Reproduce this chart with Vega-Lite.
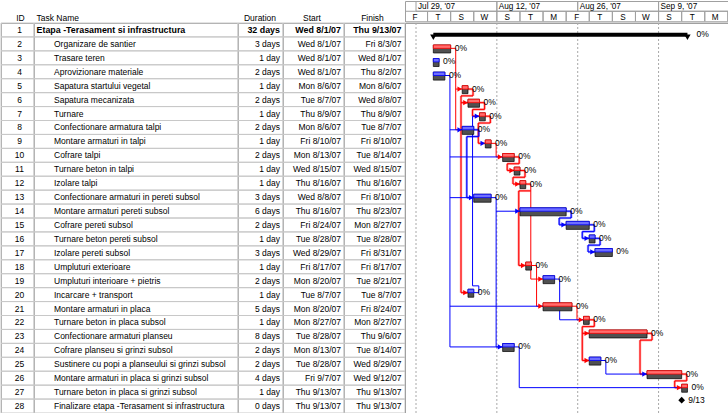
{
"$schema": "https://vega.github.io/schema/vega-lite/v6.json",
"padding": 0,
"spacing": 0,
"background": "white",
"config": {
  "view": {"stroke": "#a0a0a0", "strokeWidth": 1},
  "concat": {"spacing": 0},
  "text": {"font": "Liberation Sans", "fontSize": 8.5, "color": "#000000"}
},
"datasets": {
  "tasks": [
    {"id":1,"level":1,"name":"Etapa -Terasament si infrastructura","dur":"32 days","startTxt":"Wed 8/1/07","finishTxt":"Thu 9/13/07","start":"2007-08-01","end":"2007-09-14","crit":"yes","type":"summary","complete":0},
    {"id":2,"level":2,"name":"Organizare de santier","dur":"3 days","startTxt":"Wed 8/1/07","finishTxt":"Fri 8/3/07","start":"2007-08-01","end":"2007-08-04","crit":"yes","type":"task","complete":0},
    {"id":3,"level":2,"name":"Trasare teren","dur":"1 day","startTxt":"Wed 8/1/07","finishTxt":"Wed 8/1/07","start":"2007-08-01","end":"2007-08-02","crit":"no","type":"task","complete":0},
    {"id":4,"level":2,"name":"Aprovizionare materiale","dur":"2 days","startTxt":"Wed 8/1/07","finishTxt":"Thu 8/2/07","start":"2007-08-01","end":"2007-08-03","crit":"no","type":"task","complete":0},
    {"id":5,"level":2,"name":"Sapatura startului vegetal","dur":"1 day","startTxt":"Mon 8/6/07","finishTxt":"Mon 8/6/07","start":"2007-08-06","end":"2007-08-07","crit":"yes","type":"task","complete":0},
    {"id":6,"level":2,"name":"Sapatura mecanizata","dur":"2 days","startTxt":"Tue 8/7/07","finishTxt":"Wed 8/8/07","start":"2007-08-07","end":"2007-08-09","crit":"yes","type":"task","complete":0},
    {"id":7,"level":2,"name":"Turnare","dur":"1 day","startTxt":"Thu 8/9/07","finishTxt":"Thu 8/9/07","start":"2007-08-09","end":"2007-08-10","crit":"yes","type":"task","complete":0},
    {"id":8,"level":2,"name":"Confectionare armatura talpi","dur":"2 days","startTxt":"Mon 8/6/07","finishTxt":"Tue 8/7/07","start":"2007-08-06","end":"2007-08-08","crit":"no","type":"task","complete":0},
    {"id":9,"level":2,"name":"Montare armaturi in talpi","dur":"1 day","startTxt":"Fri 8/10/07","finishTxt":"Fri 8/10/07","start":"2007-08-10","end":"2007-08-11","crit":"yes","type":"task","complete":0},
    {"id":10,"level":2,"name":"Cofrare talpi","dur":"2 days","startTxt":"Mon 8/13/07","finishTxt":"Tue 8/14/07","start":"2007-08-13","end":"2007-08-15","crit":"yes","type":"task","complete":0},
    {"id":11,"level":2,"name":"Turnare beton in talpi","dur":"1 day","startTxt":"Wed 8/15/07","finishTxt":"Wed 8/15/07","start":"2007-08-15","end":"2007-08-16","crit":"yes","type":"task","complete":0},
    {"id":12,"level":2,"name":"Izolare talpi","dur":"1 day","startTxt":"Thu 8/16/07","finishTxt":"Thu 8/16/07","start":"2007-08-16","end":"2007-08-17","crit":"yes","type":"task","complete":0},
    {"id":13,"level":2,"name":"Confectionare armaturi in pereti subsol","dur":"3 days","startTxt":"Wed 8/8/07","finishTxt":"Fri 8/10/07","start":"2007-08-08","end":"2007-08-11","crit":"no","type":"task","complete":0},
    {"id":14,"level":2,"name":"Montare armaturi pereti subsol","dur":"6 days","startTxt":"Thu 8/16/07","finishTxt":"Thu 8/23/07","start":"2007-08-16","end":"2007-08-24","crit":"no","type":"task","complete":0},
    {"id":15,"level":2,"name":"Cofrare pereti subsol","dur":"2 days","startTxt":"Fri 8/24/07","finishTxt":"Mon 8/27/07","start":"2007-08-24","end":"2007-08-28","crit":"no","type":"task","complete":0},
    {"id":16,"level":2,"name":"Turnare beton pereti subsol","dur":"1 day","startTxt":"Tue 8/28/07","finishTxt":"Tue 8/28/07","start":"2007-08-28","end":"2007-08-29","crit":"no","type":"task","complete":0},
    {"id":17,"level":2,"name":"Izolare pereti subsol","dur":"3 days","startTxt":"Wed 8/29/07","finishTxt":"Fri 8/31/07","start":"2007-08-29","end":"2007-09-01","crit":"no","type":"task","complete":0},
    {"id":18,"level":2,"name":"Umpluturi exterioare","dur":"1 day","startTxt":"Fri 8/17/07","finishTxt":"Fri 8/17/07","start":"2007-08-17","end":"2007-08-18","crit":"yes","type":"task","complete":0},
    {"id":19,"level":2,"name":"Umpluturi interioare + pietris","dur":"2 days","startTxt":"Mon 8/20/07","finishTxt":"Tue 8/21/07","start":"2007-08-20","end":"2007-08-22","crit":"no","type":"task","complete":0},
    {"id":20,"level":2,"name":"Incarcare + transport","dur":"1 day","startTxt":"Tue 8/7/07","finishTxt":"Tue 8/7/07","start":"2007-08-07","end":"2007-08-08","crit":"no","type":"task","complete":0},
    {"id":21,"level":2,"name":"Montare armaturi in placa","dur":"5 days","startTxt":"Mon 8/20/07","finishTxt":"Fri 8/24/07","start":"2007-08-20","end":"2007-08-25","crit":"yes","type":"task","complete":0},
    {"id":22,"level":2,"name":"Turnare beton in placa subsol","dur":"1 day","startTxt":"Mon 8/27/07","finishTxt":"Mon 8/27/07","start":"2007-08-27","end":"2007-08-28","crit":"yes","type":"task","complete":0},
    {"id":23,"level":2,"name":"Confectionare armaturi planseu","dur":"8 days","startTxt":"Tue 8/28/07","finishTxt":"Thu 9/6/07","start":"2007-08-28","end":"2007-09-07","crit":"yes","type":"task","complete":0},
    {"id":24,"level":2,"name":"Cofrare planseu si grinzi subsol","dur":"2 days","startTxt":"Mon 8/13/07","finishTxt":"Tue 8/14/07","start":"2007-08-13","end":"2007-08-15","crit":"no","type":"task","complete":0},
    {"id":25,"level":2,"name":"Sustinere cu popi a planseului si grinzi subsol","dur":"2 days","startTxt":"Tue 8/28/07","finishTxt":"Wed 8/29/07","start":"2007-08-28","end":"2007-08-30","crit":"no","type":"task","complete":0},
    {"id":26,"level":2,"name":"Montare armaturi in placa si grinzi subsol","dur":"4 days","startTxt":"Fri 9/7/07","finishTxt":"Wed 9/12/07","start":"2007-09-07","end":"2007-09-13","crit":"yes","type":"task","complete":0},
    {"id":27,"level":2,"name":"Turnare beton in placa si grinzi subsol","dur":"1 day","startTxt":"Thu 9/13/07","finishTxt":"Thu 9/13/07","start":"2007-09-13","end":"2007-09-14","crit":"yes","type":"task","complete":0},
    {"id":28,"level":2,"name":"Finalizare etapa -Terasament si infrastructura","dur":"0 days","startTxt":"Thu 9/13/07","finishTxt":"Thu 9/13/07","start":"2007-09-13","end":"2007-09-13","crit":"yes","type":"milestone","complete":0}
  ],
  "timescale": [
    {"tier":"major","d":"2007-07-29","e":"2007-08-12","label":"Jul 29, '07"},
    {"tier":"major","d":"2007-08-12","e":"2007-08-26","label":"Aug 12, '07"},
    {"tier":"major","d":"2007-08-26","e":"2007-09-09","label":"Aug 26, '07"},
    {"tier":"major","d":"2007-09-09","e":"2007-09-23","label":"Sep 9, '07"},
    {"tier":"minor","d":"2007-07-27","e":"2007-07-31","label":"F"},
    {"tier":"minor","d":"2007-07-31","e":"2007-08-04","label":"T"},
    {"tier":"minor","d":"2007-08-04","e":"2007-08-08","label":"S"},
    {"tier":"minor","d":"2007-08-08","e":"2007-08-12","label":"W"},
    {"tier":"minor","d":"2007-08-12","e":"2007-08-16","label":"S"},
    {"tier":"minor","d":"2007-08-16","e":"2007-08-20","label":"T"},
    {"tier":"minor","d":"2007-08-20","e":"2007-08-24","label":"M"},
    {"tier":"minor","d":"2007-08-24","e":"2007-08-28","label":"F"},
    {"tier":"minor","d":"2007-08-28","e":"2007-09-01","label":"T"},
    {"tier":"minor","d":"2007-09-01","e":"2007-09-05","label":"S"},
    {"tier":"minor","d":"2007-09-05","e":"2007-09-09","label":"W"},
    {"tier":"minor","d":"2007-09-09","e":"2007-09-13","label":"S"},
    {"tier":"minor","d":"2007-09-13","e":"2007-09-17","label":"T"},
    {"tier":"minor","d":"2007-09-17","e":"2007-09-21","label":"M"},
    {"tier":"minor","d":"2007-09-21","e":"2007-09-25","label":""}
  ],
  "arrows": [
    {"d":"2007-08-06","row":5,"c":"yes"},{"d":"2007-08-06","row":8,"c":"no"},{"d":"2007-08-07","row":6,"c":"yes"},
    {"d":"2007-08-07","row":20,"c":"yes"},{"d":"2007-08-09","row":7,"c":"no"},{"d":"2007-08-10","row":9,"c":"no"},
    {"d":"2007-08-13","row":10,"c":"yes"},{"d":"2007-08-15","row":11,"c":"yes"},{"d":"2007-08-16","row":12,"c":"yes"},
    {"d":"2007-08-08","row":13,"c":"no"},{"d":"2007-08-16","row":14,"c":"no"},{"d":"2007-08-24","row":15,"c":"no"},
    {"d":"2007-08-28","row":16,"c":"no"},{"d":"2007-08-29","row":17,"c":"no"},{"d":"2007-08-17","row":18,"c":"yes"},
    {"d":"2007-08-20","row":19,"c":"yes"},{"d":"2007-08-20","row":21,"c":"yes"},{"d":"2007-08-27","row":22,"c":"yes"},
    {"d":"2007-08-28","row":23,"c":"yes"},{"d":"2007-08-13","row":24,"c":"no"},{"d":"2007-08-28","row":25,"c":"yes"},
    {"d":"2007-09-07","row":26,"c":"no"},{"d":"2007-09-13","row":27,"c":"yes"}
  ],
  "links": [
    {"x":"2007-08-04T00:00:00Z","x2":"2007-08-04T21:00:00Z","y":2,"y2":2,"c":"yes","b":0},
    {"x":"2007-08-04T21:00:00Z","x2":"2007-08-04T21:00:00Z","y":2,"y2":8,"c":"yes","b":0},
    {"x":"2007-08-04T21:00:00Z","x2":"2007-08-06T00:00:00Z","y":5,"y2":5,"c":"yes","b":0},
    {"x":"2007-08-04T21:00:00Z","x2":"2007-08-06T00:00:00Z","y":8,"y2":8,"c":"yes","b":0},
    {"x":"2007-08-07T00:00:00Z","x2":"2007-08-07T21:00:00Z","y":5,"y2":5,"c":"yes","b":1},
    {"x":"2007-08-07T21:00:00Z","x2":"2007-08-07T21:00:00Z","y":5,"y2":5.5,"c":"yes","b":1},
    {"x":"2007-08-05T19:00:00Z","x2":"2007-08-07T21:00:00Z","y":5.5,"y2":5.5,"c":"yes","b":1},
    {"x":"2007-08-05T19:00:00Z","x2":"2007-08-05T19:00:00Z","y":5.5,"y2":20,"c":"yes","b":1},
    {"x":"2007-08-05T19:00:00Z","x2":"2007-08-07T00:00:00Z","y":6,"y2":6,"c":"yes","b":1},
    {"x":"2007-08-05T19:00:00Z","x2":"2007-08-07T00:00:00Z","y":20,"y2":20,"c":"yes","b":1},
    {"x":"2007-08-09T00:00:00Z","x2":"2007-08-09T21:00:00Z","y":6,"y2":6,"c":"yes","b":1},
    {"x":"2007-08-09T21:00:00Z","x2":"2007-08-09T21:00:00Z","y":6,"y2":6.5,"c":"yes","b":1},
    {"x":"2007-08-07T19:00:00Z","x2":"2007-08-09T21:00:00Z","y":6.5,"y2":6.5,"c":"yes","b":1},
    {"x":"2007-08-07T19:00:00Z","x2":"2007-08-07T19:00:00Z","y":6.5,"y2":7,"c":"yes","b":1},
    {"x":"2007-08-07T19:00:00Z","x2":"2007-08-09T00:00:00Z","y":7,"y2":7,"c":"yes","b":1},
    {"x":"2007-08-10T00:00:00Z","x2":"2007-08-10T21:00:00Z","y":7,"y2":7,"c":"yes","b":1},
    {"x":"2007-08-10T21:00:00Z","x2":"2007-08-10T21:00:00Z","y":7,"y2":7.5,"c":"yes","b":1},
    {"x":"2007-08-08T19:00:00Z","x2":"2007-08-10T21:00:00Z","y":7.5,"y2":7.5,"c":"yes","b":1},
    {"x":"2007-08-08T19:00:00Z","x2":"2007-08-08T19:00:00Z","y":7.5,"y2":9,"c":"yes","b":1},
    {"x":"2007-08-08T19:00:00Z","x2":"2007-08-10T00:00:00Z","y":9,"y2":9,"c":"yes","b":1},
    {"x":"2007-08-11T00:00:00Z","x2":"2007-08-11T21:00:00Z","y":9,"y2":9,"c":"yes","b":0},
    {"x":"2007-08-11T21:00:00Z","x2":"2007-08-11T21:00:00Z","y":9,"y2":10,"c":"yes","b":0},
    {"x":"2007-08-11T21:00:00Z","x2":"2007-08-13T00:00:00Z","y":10,"y2":10,"c":"yes","b":0},
    {"x":"2007-08-15T00:00:00Z","x2":"2007-08-15T21:00:00Z","y":10,"y2":10,"c":"yes","b":1},
    {"x":"2007-08-15T21:00:00Z","x2":"2007-08-15T21:00:00Z","y":10,"y2":10.5,"c":"yes","b":1},
    {"x":"2007-08-13T19:00:00Z","x2":"2007-08-15T21:00:00Z","y":10.5,"y2":10.5,"c":"yes","b":1},
    {"x":"2007-08-13T19:00:00Z","x2":"2007-08-13T19:00:00Z","y":10.5,"y2":11,"c":"yes","b":1},
    {"x":"2007-08-13T19:00:00Z","x2":"2007-08-15T00:00:00Z","y":11,"y2":11,"c":"yes","b":1},
    {"x":"2007-08-16T00:00:00Z","x2":"2007-08-16T21:00:00Z","y":11,"y2":11,"c":"yes","b":1},
    {"x":"2007-08-16T21:00:00Z","x2":"2007-08-16T21:00:00Z","y":11,"y2":11.5,"c":"yes","b":1},
    {"x":"2007-08-14T19:00:00Z","x2":"2007-08-16T21:00:00Z","y":11.5,"y2":11.5,"c":"yes","b":1},
    {"x":"2007-08-14T19:00:00Z","x2":"2007-08-14T19:00:00Z","y":11.5,"y2":12,"c":"yes","b":1},
    {"x":"2007-08-14T19:00:00Z","x2":"2007-08-16T00:00:00Z","y":12,"y2":12,"c":"yes","b":1},
    {"x":"2007-08-17T00:00:00Z","x2":"2007-08-17T21:00:00Z","y":12,"y2":12,"c":"yes","b":1},
    {"x":"2007-08-17T21:00:00Z","x2":"2007-08-17T21:00:00Z","y":12,"y2":19,"c":"yes","b":0},
    {"x":"2007-08-15T19:00:00Z","x2":"2007-08-17T21:00:00Z","y":12.5,"y2":12.5,"c":"yes","b":1},
    {"x":"2007-08-15T19:00:00Z","x2":"2007-08-15T19:00:00Z","y":12.5,"y2":18,"c":"yes","b":1},
    {"x":"2007-08-15T19:00:00Z","x2":"2007-08-17T00:00:00Z","y":18,"y2":18,"c":"yes","b":1},
    {"x":"2007-08-17T21:00:00Z","x2":"2007-08-20T00:00:00Z","y":19,"y2":19,"c":"yes","b":0},
    {"x":"2007-08-18T00:00:00Z","x2":"2007-08-18T21:00:00Z","y":18,"y2":18,"c":"yes","b":0},
    {"x":"2007-08-18T21:00:00Z","x2":"2007-08-18T21:00:00Z","y":18,"y2":21,"c":"yes","b":0},
    {"x":"2007-08-18T21:00:00Z","x2":"2007-08-20T00:00:00Z","y":21,"y2":21,"c":"yes","b":0},
    {"x":"2007-08-25T00:00:00Z","x2":"2007-08-25T21:00:00Z","y":21,"y2":21,"c":"yes","b":0},
    {"x":"2007-08-25T21:00:00Z","x2":"2007-08-25T21:00:00Z","y":21,"y2":22,"c":"yes","b":0},
    {"x":"2007-08-25T21:00:00Z","x2":"2007-08-27T00:00:00Z","y":22,"y2":22,"c":"yes","b":0},
    {"x":"2007-08-28T00:00:00Z","x2":"2007-08-28T21:00:00Z","y":22,"y2":22,"c":"yes","b":1},
    {"x":"2007-08-28T21:00:00Z","x2":"2007-08-28T21:00:00Z","y":22,"y2":22.5,"c":"yes","b":1},
    {"x":"2007-08-26T19:00:00Z","x2":"2007-08-28T21:00:00Z","y":22.5,"y2":22.5,"c":"yes","b":1},
    {"x":"2007-08-26T19:00:00Z","x2":"2007-08-26T19:00:00Z","y":22.5,"y2":25,"c":"yes","b":1},
    {"x":"2007-08-26T19:00:00Z","x2":"2007-08-28T00:00:00Z","y":23,"y2":23,"c":"yes","b":1},
    {"x":"2007-08-26T19:00:00Z","x2":"2007-08-28T00:00:00Z","y":25,"y2":25,"c":"yes","b":1},
    {"x":"2007-09-07T00:00:00Z","x2":"2007-09-07T21:00:00Z","y":23,"y2":23,"c":"yes","b":1},
    {"x":"2007-09-07T21:00:00Z","x2":"2007-09-07T21:00:00Z","y":23,"y2":23.5,"c":"yes","b":1},
    {"x":"2007-09-05T19:00:00Z","x2":"2007-09-07T21:00:00Z","y":23.5,"y2":23.5,"c":"yes","b":1},
    {"x":"2007-09-05T19:00:00Z","x2":"2007-09-05T19:00:00Z","y":23.5,"y2":26,"c":"yes","b":1},
    {"x":"2007-09-05T19:00:00Z","x2":"2007-09-07T00:00:00Z","y":26,"y2":26,"c":"yes","b":1},
    {"x":"2007-09-13T00:00:00Z","x2":"2007-09-13T21:00:00Z","y":26,"y2":26,"c":"yes","b":1},
    {"x":"2007-09-13T21:00:00Z","x2":"2007-09-13T21:00:00Z","y":26,"y2":26.5,"c":"yes","b":1},
    {"x":"2007-09-11T19:00:00Z","x2":"2007-09-13T21:00:00Z","y":26.5,"y2":26.5,"c":"yes","b":1},
    {"x":"2007-09-11T19:00:00Z","x2":"2007-09-11T19:00:00Z","y":26.5,"y2":27,"c":"yes","b":1},
    {"x":"2007-09-11T19:00:00Z","x2":"2007-09-13T00:00:00Z","y":27,"y2":27,"c":"yes","b":1},
    {"x":"2007-08-03T00:00:00Z","x2":"2007-08-03T21:00:00Z","y":4,"y2":4,"c":"no","b":0},
    {"x":"2007-08-03T21:00:00Z","x2":"2007-08-03T21:00:00Z","y":4,"y2":24,"c":"no","b":0},
    {"x":"2007-08-03T21:00:00Z","x2":"2007-08-06T00:00:00Z","y":8,"y2":8,"c":"no","b":0},
    {"x":"2007-08-03T21:00:00Z","x2":"2007-08-13T00:00:00Z","y":10,"y2":10,"c":"no","b":0},
    {"x":"2007-08-03T21:00:00Z","x2":"2007-08-08T00:00:00Z","y":13,"y2":13,"c":"no","b":0},
    {"x":"2007-08-03T21:00:00Z","x2":"2007-08-20T00:00:00Z","y":21,"y2":21,"c":"no","b":0},
    {"x":"2007-08-03T21:00:00Z","x2":"2007-08-13T00:00:00Z","y":24,"y2":24,"c":"no","b":0},
    {"x":"2007-08-08T00:00:00Z","x2":"2007-08-08T21:00:00Z","y":8,"y2":8,"c":"no","b":1},
    {"x":"2007-08-08T21:00:00Z","x2":"2007-08-08T21:00:00Z","y":8,"y2":8.5,"c":"no","b":1},
    {"x":"2007-08-06T19:00:00Z","x2":"2007-08-08T21:00:00Z","y":8.5,"y2":8.5,"c":"no","b":1},
    {"x":"2007-08-06T19:00:00Z","x2":"2007-08-06T19:00:00Z","y":8.5,"y2":13,"c":"no","b":1},
    {"x":"2007-08-06T19:00:00Z","x2":"2007-08-08T00:00:00Z","y":13,"y2":13,"c":"no","b":1},
    {"x":"2007-08-08T00:00:00Z","x2":"2007-08-08T21:00:00Z","y":20,"y2":20,"c":"no","b":0},
    {"x":"2007-08-08T21:00:00Z","x2":"2007-08-08T21:00:00Z","y":19.5,"y2":20,"c":"no","b":0},
    {"x":"2007-08-07T19:00:00Z","x2":"2007-08-08T21:00:00Z","y":19.5,"y2":19.5,"c":"no","b":0},
    {"x":"2007-08-07T19:00:00Z","x2":"2007-08-07T19:00:00Z","y":7,"y2":19.5,"c":"no","b":0},
    {"x":"2007-08-07T19:00:00Z","x2":"2007-08-09T00:00:00Z","y":7,"y2":7,"c":"no","b":0},
    {"x":"2007-08-11T00:00:00Z","x2":"2007-08-11T21:00:00Z","y":13,"y2":13,"c":"no","b":0},
    {"x":"2007-08-11T21:00:00Z","x2":"2007-08-11T21:00:00Z","y":13,"y2":24,"c":"no","b":0},
    {"x":"2007-08-11T21:00:00Z","x2":"2007-08-16T00:00:00Z","y":14,"y2":14,"c":"no","b":0},
    {"x":"2007-08-11T21:00:00Z","x2":"2007-08-13T00:00:00Z","y":24,"y2":24,"c":"no","b":0},
    {"x":"2007-08-24T00:00:00Z","x2":"2007-08-24T21:00:00Z","y":14,"y2":14,"c":"no","b":1},
    {"x":"2007-08-24T21:00:00Z","x2":"2007-08-24T21:00:00Z","y":14,"y2":14.5,"c":"no","b":1},
    {"x":"2007-08-22T19:00:00Z","x2":"2007-08-24T21:00:00Z","y":14.5,"y2":14.5,"c":"no","b":1},
    {"x":"2007-08-22T19:00:00Z","x2":"2007-08-22T19:00:00Z","y":14.5,"y2":15,"c":"no","b":1},
    {"x":"2007-08-22T19:00:00Z","x2":"2007-08-24T00:00:00Z","y":15,"y2":15,"c":"no","b":1},
    {"x":"2007-08-28T00:00:00Z","x2":"2007-08-28T21:00:00Z","y":15,"y2":15,"c":"no","b":1},
    {"x":"2007-08-28T21:00:00Z","x2":"2007-08-28T21:00:00Z","y":15,"y2":15.5,"c":"no","b":1},
    {"x":"2007-08-26T19:00:00Z","x2":"2007-08-28T21:00:00Z","y":15.5,"y2":15.5,"c":"no","b":1},
    {"x":"2007-08-26T19:00:00Z","x2":"2007-08-26T19:00:00Z","y":15.5,"y2":16,"c":"no","b":1},
    {"x":"2007-08-26T19:00:00Z","x2":"2007-08-28T00:00:00Z","y":16,"y2":16,"c":"no","b":1},
    {"x":"2007-08-29T00:00:00Z","x2":"2007-08-29T21:00:00Z","y":16,"y2":16,"c":"no","b":1},
    {"x":"2007-08-29T21:00:00Z","x2":"2007-08-29T21:00:00Z","y":16,"y2":16.5,"c":"no","b":1},
    {"x":"2007-08-27T19:00:00Z","x2":"2007-08-29T21:00:00Z","y":16.5,"y2":16.5,"c":"no","b":1},
    {"x":"2007-08-27T19:00:00Z","x2":"2007-08-27T19:00:00Z","y":16.5,"y2":17,"c":"no","b":1},
    {"x":"2007-08-27T19:00:00Z","x2":"2007-08-29T00:00:00Z","y":17,"y2":17,"c":"no","b":1},
    {"x":"2007-08-22T00:00:00Z","x2":"2007-08-22T21:00:00Z","y":19,"y2":19,"c":"no","b":0},
    {"x":"2007-08-22T21:00:00Z","x2":"2007-08-22T21:00:00Z","y":19,"y2":22,"c":"no","b":0},
    {"x":"2007-08-22T21:00:00Z","x2":"2007-08-27T00:00:00Z","y":22,"y2":22,"c":"no","b":0},
    {"x":"2007-08-30T00:00:00Z","x2":"2007-08-30T21:00:00Z","y":25,"y2":25,"c":"no","b":0},
    {"x":"2007-08-30T21:00:00Z","x2":"2007-08-30T21:00:00Z","y":25,"y2":26,"c":"no","b":0},
    {"x":"2007-08-30T21:00:00Z","x2":"2007-09-07T00:00:00Z","y":26,"y2":26,"c":"no","b":0},
    {"x":"2007-08-15T00:00:00Z","x2":"2007-08-15T21:00:00Z","y":24,"y2":24,"c":"no","b":0},
    {"x":"2007-08-15T21:00:00Z","x2":"2007-08-15T21:00:00Z","y":24,"y2":27,"c":"no","b":0},
    {"x":"2007-08-15T21:00:00Z","x2":"2007-09-13T00:00:00Z","y":27,"y2":27,"c":"no","b":0}
  ]
},
"vconcat": [
  {"spacing": 0, "bounds": "flush", "hconcat": [
    {"width": 33, "height": 20.5, "data": {"values": [{"t": "ID"}]},
     "mark": {"type": "text", "align": "center", "x": "width", "y": "height", "dx": -13.5, "dy": -4},
     "encoding": {"text": {"field": "t"}}},
    {"width": 204, "height": 20.5, "data": {"values": [{"t": "Task Name"}]},
     "mark": {"type": "text", "align": "left", "x": 0, "y": "height", "dx": 2.5, "dy": -4},
     "encoding": {"text": {"field": "t"}}},
    {"width": 45, "height": 20.5, "data": {"values": [{"t": "Duration"}]},
     "mark": {"type": "text", "align": "center", "x": "width", "y": "height", "dx": -23, "dy": -4},
     "encoding": {"text": {"field": "t"}}},
    {"width": 61, "height": 20.5, "data": {"values": [{"t": "Start"}]},
     "mark": {"type": "text", "align": "center", "x": "width", "y": "height", "dx": -32, "dy": -4},
     "encoding": {"text": {"field": "t"}}},
    {"width": 61, "height": 20.5, "data": {"values": [{"t": "Finish"}]},
     "mark": {"type": "text", "align": "center", "x": "width", "y": "height", "dx": -32.5, "dy": -4},
     "encoding": {"text": {"field": "t"}}},
    {"width": 324, "height": 20.5, "data": {"name": "timescale"},
     "encoding": {
       "x": {"field": "d", "type": "temporal", "axis": null, "scale": {"type": "utc", "domain": [{"year": 2007, "month": 7, "date": 27, "hours": 2, "minutes": 17, "utc": true}, {"year": 2007, "month": 9, "date": 21, "hours": 4, "minutes": 41, "utc": true}]}},
       "y": {"field": "tier", "type": "nominal", "axis": null, "scale": {"type": "band", "domain": ["major", "minor"], "paddingInner": 0, "paddingOuter": 0}}
     },
     "layer": [
       {"mark": {"type": "rect", "fillOpacity": 0, "stroke": "#a0a0a0", "strokeWidth": 1, "clip": true},
        "encoding": {"x2": {"field": "e"}}},
       {"transform": [{"filter": "datum.tier == 'major'"}],
        "mark": {"type": "text", "align": "left", "dx": 2, "dy": 1.3, "clip": true, "fontSize": 8.2},
        "encoding": {"text": {"field": "label"}}},
       {"transform": [{"filter": "datum.tier == 'minor'"}],
        "mark": {"type": "text", "align": "center", "dx": 10.5, "dy": 1.6, "clip": true, "fontSize": 8.2},
        "encoding": {"text": {"field": "label"}}}
     ]}
  ]},
  {"spacing": 0, "bounds": "flush", "hconcat": [
    {"width": 33, "height": 390, "data": {"name": "tasks"},
     "encoding": {"y": {"field": "id", "type": "ordinal", "axis": null, "scale": {"type": "band", "paddingInner": 0, "paddingOuter": 0}}},
     "layer": [
       {"mark": {"type": "rect", "fillOpacity": 0, "stroke": "#c8c8c8", "strokeWidth": 1}},
       {"mark": {"type": "text", "align": "center", "x": "width", "dx": -14.5}, "encoding": {"text": {"field": "id"}}}
     ]},
    {"width": 204, "height": 390, "data": {"name": "tasks"},
     "encoding": {"y": {"field": "id", "type": "ordinal", "axis": null, "scale": {"type": "band", "paddingInner": 0, "paddingOuter": 0}}},
     "layer": [
       {"mark": {"type": "rect", "fillOpacity": 0, "stroke": "#c8c8c8", "strokeWidth": 1}},
       {"transform": [{"filter": "datum.level == 1"}],
        "mark": {"type": "text", "align": "left", "x": 0, "dx": 2.5, "fontWeight": "bold", "fontSize": 8.9},
        "encoding": {"text": {"field": "name"}}},
       {"transform": [{"filter": "datum.level == 2"}],
        "mark": {"type": "text", "align": "left", "x": 0, "dx": 20},
        "encoding": {"text": {"field": "name"}}}
     ]},
    {"width": 45, "height": 390, "data": {"name": "tasks"},
     "encoding": {"y": {"field": "id", "type": "ordinal", "axis": null, "scale": {"type": "band", "paddingInner": 0, "paddingOuter": 0}}},
     "layer": [
       {"mark": {"type": "rect", "fillOpacity": 0, "stroke": "#c8c8c8", "strokeWidth": 1}},
       {"transform": [{"filter": "datum.level == 1"}],
        "mark": {"type": "text", "align": "right", "x": "width", "dx": -3, "fontWeight": "bold", "fontSize": 8.9},
        "encoding": {"text": {"field": "dur"}}},
       {"transform": [{"filter": "datum.level == 2"}],
        "mark": {"type": "text", "align": "right", "x": "width", "dx": -3},
        "encoding": {"text": {"field": "dur"}}}
     ]},
    {"width": 61, "height": 390, "data": {"name": "tasks"},
     "encoding": {"y": {"field": "id", "type": "ordinal", "axis": null, "scale": {"type": "band", "paddingInner": 0, "paddingOuter": 0}}},
     "layer": [
       {"mark": {"type": "rect", "fillOpacity": 0, "stroke": "#c8c8c8", "strokeWidth": 1}},
       {"transform": [{"filter": "datum.level == 1"}],
        "mark": {"type": "text", "align": "right", "x": "width", "dx": -3, "fontWeight": "bold", "fontSize": 8.9},
        "encoding": {"text": {"field": "startTxt"}}},
       {"transform": [{"filter": "datum.level == 2"}],
        "mark": {"type": "text", "align": "right", "x": "width", "dx": -3},
        "encoding": {"text": {"field": "startTxt"}}}
     ]},
    {"width": 61, "height": 390, "data": {"name": "tasks"},
     "encoding": {"y": {"field": "id", "type": "ordinal", "axis": null, "scale": {"type": "band", "paddingInner": 0, "paddingOuter": 0}}},
     "layer": [
       {"mark": {"type": "rect", "fillOpacity": 0, "stroke": "#c8c8c8", "strokeWidth": 1}},
       {"transform": [{"filter": "datum.level == 1"}],
        "mark": {"type": "text", "align": "right", "x": "width", "dx": -3.5, "fontWeight": "bold", "fontSize": 8.9},
        "encoding": {"text": {"field": "finishTxt"}}},
       {"transform": [{"filter": "datum.level == 2"}],
        "mark": {"type": "text", "align": "right", "x": "width", "dx": -3.5},
        "encoding": {"text": {"field": "finishTxt"}}}
     ]},
    {"width": 324, "height": 390,
     "layer": [
       {"data": {"name": "timescale"}, "transform": [{"filter": "datum.tier == 'major'"}],
        "mark": {"type": "rule", "strokeDash": [2, 2], "color": "#a8a8a8", "clip": true},
        "encoding": {"x": {"field": "d", "type": "temporal", "axis": null, "scale": {"type": "utc", "domain": [{"year": 2007, "month": 7, "date": 27, "hours": 2, "minutes": 17, "utc": true}, {"year": 2007, "month": 9, "date": 21, "hours": 4, "minutes": 41, "utc": true}]}}}},
       {"data": {"name": "links"}, "transform": [{"filter": "datum.b == 1"}],
        "mark": {"type": "rule", "strokeWidth": 2.4, "opacity": 0.4},
        "encoding": {
          "x": {"field": "x", "type": "temporal", "axis": null},
          "x2": {"field": "x2"},
          "y": {"field": "y", "type": "quantitative", "axis": null, "scale": {"domain": [0.5, 28.5], "reverse": true, "nice": false, "zero": false}},
          "y2": {"field": "y2"},
          "color": {"field": "c", "type": "nominal", "legend": null, "scale": {"domain": ["yes", "no"], "range": ["#ff0000", "#0000ff"]}}
        }},
       {"data": {"name": "links"},
        "mark": {"type": "rule", "strokeWidth": 1},
        "encoding": {
          "x": {"field": "x", "type": "temporal", "axis": null},
          "x2": {"field": "x2"},
          "y": {"field": "y", "type": "quantitative", "axis": null},
          "y2": {"field": "y2"},
          "color": {"field": "c", "type": "nominal", "legend": null}
        }},
       {"data": {"name": "arrows"},
        "mark": {"type": "point", "shape": "triangle-right", "filled": true, "size": 28, "opacity": 1, "xOffset": -2.5},
        "encoding": {
          "x": {"field": "d", "type": "temporal", "axis": null},
          "y": {"field": "row", "type": "quantitative", "axis": null},
          "color": {"field": "c", "type": "nominal", "legend": null}
        }},
       {"data": {"name": "tasks"}, "transform": [{"filter": "datum.type == 'task'"}],
        "mark": {"type": "bar", "height": 8, "yOffset": 0.6, "color": "#505050", "stroke": "#000000", "strokeWidth": 0.7},
        "encoding": {
          "x": {"field": "start", "type": "temporal", "axis": null},
          "x2": {"field": "end"},
          "y": {"field": "id", "type": "quantitative", "axis": null}
        }},
       {"data": {"name": "tasks"}, "transform": [{"filter": "datum.type == 'task'"}],
        "mark": {"type": "bar", "height": 3.4, "yOffset": -1.7, "strokeWidth": 0.8},
        "encoding": {
          "x": {"field": "start", "type": "temporal", "axis": null},
          "x2": {"field": "end"},
          "y": {"field": "id", "type": "quantitative", "axis": null},
          "fill": {"field": "crit", "type": "nominal", "legend": null, "scale": {"domain": ["yes", "no"], "range": ["#ff6e6e", "#6e6eff"]}},
          "stroke": {"field": "crit", "type": "nominal", "legend": null, "scale": {"domain": ["yes", "no"], "range": ["#ff0000", "#0000ff"]}}
        }},
       {"data": {"name": "tasks"}, "transform": [{"filter": "datum.type == 'task'"}],
        "mark": {"type": "text", "align": "left", "dx": 4, "dy": -0.5},
        "encoding": {
          "x": {"field": "end", "type": "temporal", "axis": null},
          "y": {"field": "id", "type": "quantitative", "axis": null},
          "text": {"field": "complete", "type": "quantitative", "format": ".0%"}
        }},
       {"data": {"name": "tasks"}, "transform": [{"filter": "datum.type == 'summary'"}],
        "mark": {"type": "bar", "height": 4, "color": "#000000"},
        "encoding": {
          "x": {"field": "start", "type": "temporal", "axis": null},
          "x2": {"field": "end"},
          "y": {"field": "id", "type": "quantitative", "axis": null}
        }},
       {"data": {"name": "tasks"}, "transform": [{"filter": "datum.type == 'summary'"}],
        "mark": {"type": "point", "shape": "triangle-down", "filled": true, "size": 40, "color": "#000000", "opacity": 1, "yOffset": 2.5},
        "encoding": {
          "x": {"field": "start", "type": "temporal", "axis": null},
          "y": {"field": "id", "type": "quantitative", "axis": null}
        }},
       {"data": {"name": "tasks"}, "transform": [{"filter": "datum.type == 'summary'"}],
        "mark": {"type": "point", "shape": "triangle-down", "filled": true, "size": 40, "color": "#000000", "opacity": 1, "yOffset": 2.5},
        "encoding": {
          "x": {"field": "end", "type": "temporal", "axis": null},
          "y": {"field": "id", "type": "quantitative", "axis": null}
        }},
       {"data": {"name": "tasks"}, "transform": [{"filter": "datum.type == 'summary'"}],
        "mark": {"type": "text", "align": "left", "dx": 9, "dy": -0.5},
        "encoding": {
          "x": {"field": "end", "type": "temporal", "axis": null},
          "y": {"field": "id", "type": "quantitative", "axis": null},
          "text": {"field": "complete", "type": "quantitative", "format": ".0%"}
        }},
       {"data": {"name": "tasks"}, "transform": [{"filter": "datum.type == 'milestone'"}],
        "mark": {"type": "point", "shape": "diamond", "filled": true, "size": 45, "color": "#000000", "opacity": 1, "yOffset": -1},
        "encoding": {
          "x": {"field": "start", "type": "temporal", "axis": null},
          "y": {"field": "id", "type": "quantitative", "axis": null}
        }},
       {"data": {"name": "tasks"}, "transform": [{"filter": "datum.type == 'milestone'"}],
        "mark": {"type": "text", "align": "left", "dx": 6.5, "dy": -1},
        "encoding": {
          "x": {"field": "start", "type": "temporal", "axis": null},
          "y": {"field": "id", "type": "quantitative", "axis": null},
          "text": {"field": "start", "type": "temporal", "timeUnit": "utcmonthdate", "format": "%-m/%-d"}
        }}
     ]}
  ]}
]
}
